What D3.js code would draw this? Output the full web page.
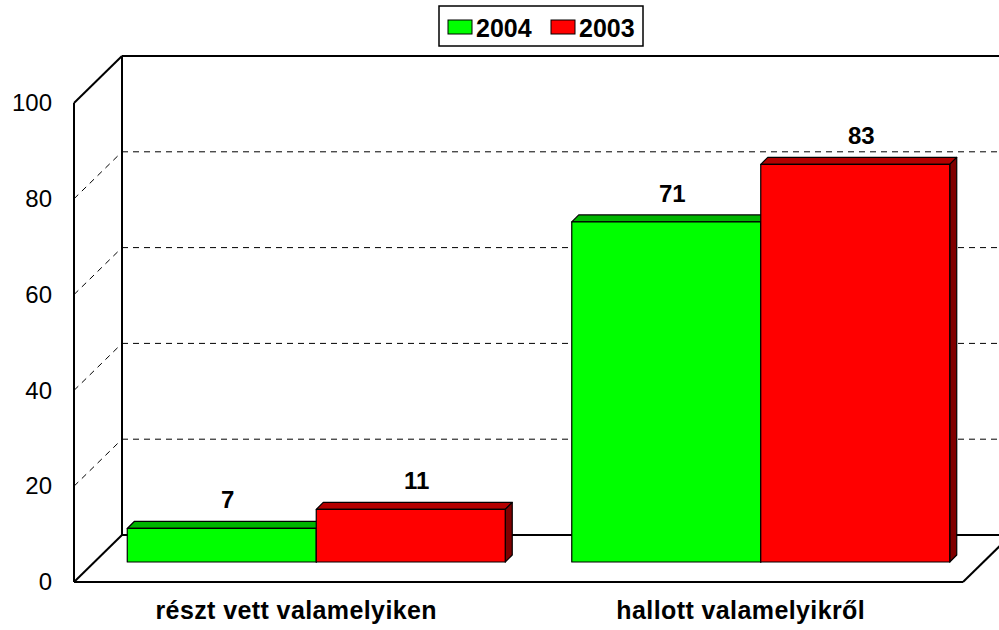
<!DOCTYPE html>
<html>
<head>
<meta charset="utf-8">
<script src="https://cdn.jsdelivr.net/npm/d3@7"></script>
<style>
  body { margin: 0; background: #fff; }
  text { font-family: Arial, "Liberation Sans", sans-serif; fill: #000; }
</style>
</head>
<body>
<svg id="chart" width="999" height="630"></svg>
<script>
// === data ===
const categories = ["részt vett valamelyiken", "hallott valamelyikről"];
const seriesNames = ["2004", "2003"];
const values2004 = [7, 71];
const values2003 = [11, 83];
const yTicks = [0, 20, 40, 60, 80, 100];

const seriesColors = {
  "2004": { front: "#00ff00", top: "#00b400", side: "#007800" },
  "2003": { front: "#ff0000", top: "#b40000", side: "#800000" }
};

const rows = categories.map((c, i) => ({
  cat: c,
  bars: [
    { series: "2004", value: values2004[i] },
    { series: "2003", value: values2003[i] }
  ]
}));

// === layout ===
const svg = d3.select("#chart");
const plotLeft = 74, plotRight = 963, plotBottom = 582, plotTop = 103;
const depthX = 48, depthY = 47;       // wall depth
const barShift = 20, barDepth = 7;    // bars sit part way into the floor

const y = d3.scaleLinear().domain([0, 100]).range([plotBottom, plotTop]);
const x0 = d3.scaleBand().domain(categories).range([plotLeft, plotRight]);
const x1 = d3.scaleBand().domain(seriesNames)
  .range([0, x0.bandwidth()]).paddingInner(0).paddingOuter(0.176);

// === walls and floor ===
const frame = svg.append("g").attr("fill", "none").attr("stroke", "#000");

// dashed gridlines: side wall diagonals + back wall
const grid = yTicks.filter(t => t > 0 && t < 100);
frame.selectAll(".gd").data(grid).enter().append("line")
  .attr("x1", plotLeft).attr("y1", d => y(d))
  .attr("x2", plotLeft + depthX).attr("y2", d => y(d) - depthY)
  .attr("stroke-width", 1).attr("stroke-dasharray", "6,5");
frame.selectAll(".gh").data(grid).enter().append("line")
  .attr("x1", plotLeft + depthX).attr("y1", d => y(d) - depthY)
  .attr("x2", plotRight + depthX).attr("y2", d => y(d) - depthY)
  .attr("stroke-width", 1).attr("stroke-dasharray", "6,5");

// solid edges
const edges = [
  [plotLeft, y(0), plotLeft, y(100)],
  [plotLeft, y(100), plotLeft + depthX, y(100) - depthY],
  [plotLeft + depthX, y(100) - depthY, plotRight + depthX, y(100) - depthY],
  [plotLeft + depthX, y(100) - depthY, plotLeft + depthX, y(0) - depthY],
  [plotLeft + depthX, y(0) - depthY, plotRight + depthX, y(0) - depthY],
  [plotLeft, y(0), plotRight, y(0)],
  [plotLeft, y(0), plotLeft + depthX, y(0) - depthY],
  [plotRight, y(0), plotRight + depthX, y(0) - depthY]
];
frame.selectAll(".edge").data(edges).enter().append("line")
  .attr("x1", d => d[0]).attr("y1", d => d[1])
  .attr("x2", d => d[2]).attr("y2", d => d[3])
  .attr("stroke-width", 2);

// === bars ===
const barG = svg.append("g");
rows.forEach(row => {
  row.bars.forEach(b => {
    const col = seriesColors[b.series];
    const bx = x0(row.cat) + x1(b.series) + barShift;
    const bw = x1.bandwidth();
    const yb = y(0) - barShift;
    const yt = yb - (y(0) - y(b.value));
    const g = barG.append("g").attr("stroke", "#000").attr("stroke-width", 1.2)
      .attr("stroke-linejoin", "round");
    g.append("polygon")
      .attr("points", [[bx, yt], [bx + barDepth, yt - barDepth], [bx + bw + barDepth, yt - barDepth], [bx + bw, yt]].join(" "))
      .attr("fill", col.top);
    g.append("polygon")
      .attr("points", [[bx + bw, yt], [bx + bw + barDepth, yt - barDepth], [bx + bw + barDepth, yb - barDepth], [bx + bw, yb]].join(" "))
      .attr("fill", col.side);
    g.append("rect")
      .attr("x", bx).attr("y", yt).attr("width", bw).attr("height", yb - yt)
      .attr("fill", col.front);
    barG.append("text")
      .attr("x", bx + bw / 2 + 6).attr("y", yt - 20)
      .attr("text-anchor", "middle")
      .style("font-size", "24px").style("font-weight", "bold")
      .text(b.value);
  });
});

// === axes ===
const yAxis = svg.append("g")
  .attr("transform", `translate(${plotLeft},0)`)
  .call(d3.axisLeft(y).tickValues(yTicks).tickSize(0).tickPadding(22));
yAxis.select(".domain").remove();
yAxis.selectAll("text")
  .style("font-family", "Arial, 'Liberation Sans', sans-serif")
  .style("font-size", "24px").attr("fill", "#000");

const xAxis = svg.append("g")
  .attr("transform", `translate(0,${plotBottom})`)
  .call(d3.axisBottom(x0).tickSize(0).tickPadding(19));
xAxis.select(".domain").remove();
xAxis.selectAll("text")
  .style("font-family", "Arial, 'Liberation Sans', sans-serif")
  .style("font-size", "25px").style("font-weight", "bold")
  .style("letter-spacing", "0.4px").attr("fill", "#000");

// === legend ===
const legend = svg.append("g");
legend.append("rect")
  .attr("x", 439).attr("y", 6).attr("width", 204).attr("height", 40)
  .attr("fill", "#fff").attr("stroke", "#000").attr("stroke-width", 1.5);
const item = legend.selectAll(".item").data(seriesNames).enter().append("g")
  .attr("transform", (d, i) => `translate(${448 + i * 103},20)`);
item.append("rect")
  .attr("width", 24).attr("height", 14)
  .attr("fill", d => seriesColors[d].front)
  .attr("stroke", "#000").attr("stroke-width", 1);
item.append("text")
  .attr("x", 28).attr("y", 17)
  .style("font-size", "25px").style("font-weight", "bold")
  .text(d => d);
</script>
</body>
</html>
